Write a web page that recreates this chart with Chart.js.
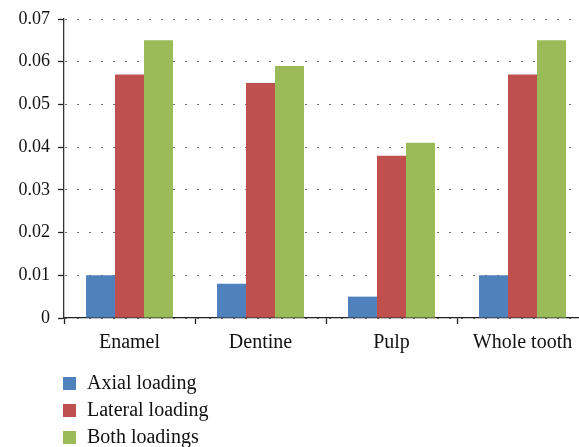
<!DOCTYPE html>
<html>
<head>
<meta charset="utf-8">
<script src="https://cdn.jsdelivr.net/npm/chart.js@4"></script>
<style>
  html, body { margin: 0; padding: 0; background: #fff; overflow: hidden; }
  #chart { display: block; }
</style>
</head>
<body>
<canvas id="chart" width="588" height="447"></canvas>
<script>
// values
var categories = ["Enamel", "Dentine", "Pulp", "Whole tooth"];
var axialLoading = [0.010, 0.008, 0.005, 0.010];
var lateralLoading = [0.057, 0.055, 0.038, 0.057];
var bothLoadings = [0.065, 0.059, 0.041, 0.065];
var seriesNames = ["Axial loading", "Lateral loading", "Both loadings"];

var serif = "'Liberation Serif', 'Times New Roman', serif";

// vertical legend under the plot, drawn on the canvas
var listLegend = {
    id: 'listLegend',
    afterDraw: function (chart) {
        var ctx = chart.ctx;
        ctx.save();
        ctx.font = "20px " + serif;
        ctx.textBaseline = 'middle';
        ctx.textAlign = 'left';
        chart.data.datasets.forEach(function (ds, i) {
            var y = 384 + i * 27;
            ctx.fillStyle = ds.backgroundColor;
            ctx.fillRect(63, y - 7, 13, 13);
            ctx.fillStyle = '#111';
            ctx.fillText(ds.label, 87, y);
        });
        ctx.restore();
    }
};

var data = {
    labels: categories,
    datasets: [
        { label: seriesNames[0], backgroundColor: "#4F81BD", data: axialLoading },
        { label: seriesNames[1], backgroundColor: "#C0504D", data: lateralLoading },
        { label: seriesNames[2], backgroundColor: "#9BBB59", data: bothLoadings }
    ]
};

var context = document.getElementById('chart').getContext('2d');

const chart = new Chart(context, {
    type: 'bar',
    data: data,
    plugins: [listLegend],
    options: {
        responsive: false,
        animation: false,
        devicePixelRatio: 1,
        categoryPercentage: 0.664,
        barPercentage: 1,
        layout: { padding: { top: 19, left: 0, right: 0, bottom: 0 } },
        plugins: {
            legend: { display: false },
            tooltip: { enabled: false }
        },
        scales: {
            x: {
                grid: {
                    offset: true,
                    drawOnChartArea: false,
                    tickLength: 6,
                    tickWidth: 1.3,
                    color: '#222'
                },
                border: { color: '#222', width: 1.3 },
                ticks: {
                    padding: 7,
                    color: '#111',
                    font: { family: serif, size: 20 }
                },
                afterFit: function (scale) {
                    scale.height = 129;
                    scale.paddingLeft = 0;
                    scale.paddingRight = 0;
                }
            },
            y: {
                min: 0,
                max: 0.07,
                ticks: {
                    stepSize: 0.01,
                    padding: 8,
                    color: '#111',
                    font: { family: serif, size: 18 }
                },
                grid: {
                    color: '#444',
                    tickColor: '#222',
                    tickWidth: 1.3,
                    tickLength: 6,
                    tickBorderDash: [6, 0]
                },
                border: { color: '#333', width: 1.3, dash: [1.5, 10.5], dashOffset: -1 },
                afterFit: function (scale) {
                    scale.width = 64;
                }
            }
        }
    }
});
</script>
</body>
</html>
